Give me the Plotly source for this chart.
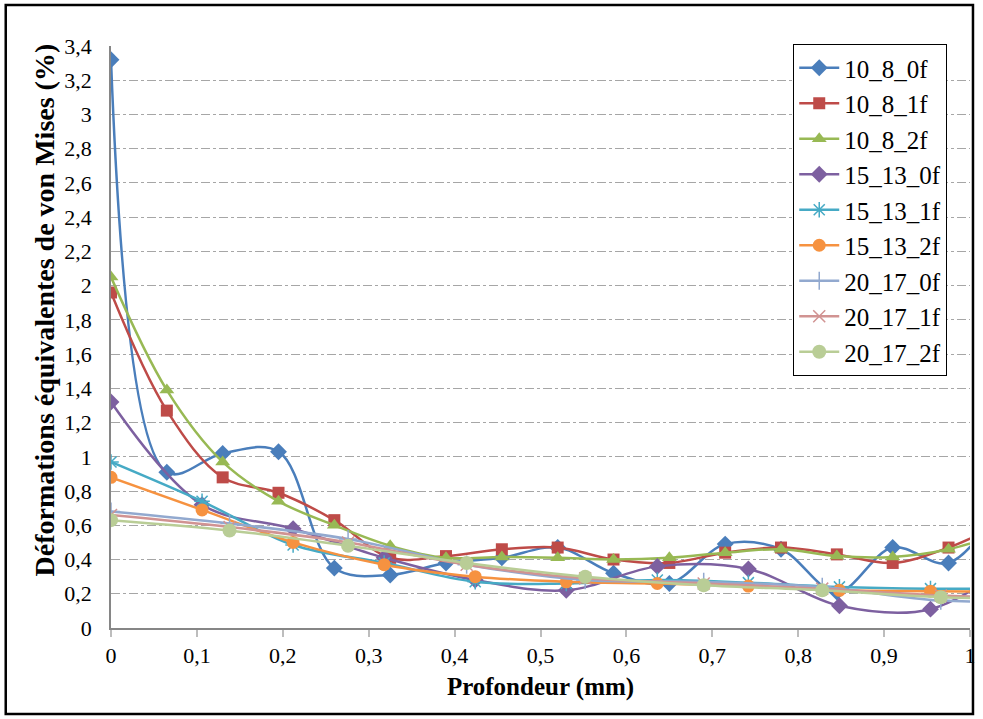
import plotly.graph_objects as go

# ---- data ----
names = ["10_8_0f", "10_8_1f", "10_8_2f", "15_13_0f", "15_13_1f", "15_13_2f",
         "20_17_0f", "20_17_1f", "20_17_2f"]

x_a = [0, 0.065, 0.13, 0.195, 0.26, 0.325, 0.39, 0.455, 0.52, 0.585, 0.65,
       0.715, 0.78, 0.845, 0.91, 0.975, 1.04]
x_b = [0, 0.106, 0.212, 0.318, 0.424, 0.53, 0.636, 0.742, 0.848, 0.954, 1.06]
x_c = [0, 0.138, 0.276, 0.414, 0.552, 0.69, 0.828, 0.966, 1.104]

y_10_8_0f = [3.32, 0.91, 1.02, 1.03, 0.35, 0.31, 0.38, 0.41, 0.47, 0.32, 0.26,
             0.49, 0.46, 0.21, 0.47, 0.38, 0.75]
y_10_8_1f = [1.96, 1.27, 0.88, 0.79, 0.63, 0.41, 0.42, 0.46, 0.47, 0.40, 0.38,
             0.44, 0.47, 0.43, 0.38, 0.47, 0.62]
y_10_8_2f = [2.05, 1.39, 0.97, 0.74, 0.60, 0.48, 0.41, 0.415, 0.41, 0.40, 0.41,
             0.44, 0.46, 0.42, 0.415, 0.46, 0.56]
y_15_13_0f = [1.32, 0.72, 0.58, 0.41, 0.28, 0.22, 0.36, 0.345, 0.13, 0.11, 0.42]
y_15_13_1f = [0.97, 0.74, 0.485, 0.38, 0.27, 0.26, 0.28, 0.265, 0.24, 0.23, 0.23]
y_15_13_2f = [0.88, 0.69, 0.50, 0.37, 0.30, 0.27, 0.26, 0.245, 0.22, 0.215, 0.21]
y_20_17_0f = [0.68, 0.61, 0.52, 0.37, 0.28, 0.27, 0.24, 0.16, 0.16]
y_20_17_1f = [0.66, 0.59, 0.50, 0.37, 0.29, 0.26, 0.23, 0.19, 0.17]
y_20_17_2f = [0.63, 0.57, 0.48, 0.38, 0.30, 0.25, 0.22, 0.18, 0.17]

y_ticks = [0, 0.2, 0.4, 0.6, 0.8, 1, 1.2, 1.4, 1.6, 1.8, 2, 2.2, 2.4, 2.6, 2.8,
           3, 3.2, 3.4]
x_ticks = [0, 0.1, 0.2, 0.3, 0.4, 0.5, 0.6, 0.7, 0.8, 0.9, 1]

series = [
    (names[0], x_a, y_10_8_0f, "#4A7EBB", "diamond", 13),
    (names[1], x_a, y_10_8_1f, "#BE4B48", "square", 12),
    (names[2], x_a, y_10_8_2f, "#98B954", "triangle-up", 13),
    (names[3], x_b, y_15_13_0f, "#7D60A0", "diamond", 13),
    (names[4], x_b, y_15_13_1f, "#46AAC5", "asterisk-open", 13),
    (names[5], x_b, y_15_13_2f, "#F69240", "circle", 13),
    (names[6], x_c, y_20_17_0f, "#92A9CF", "cross-thin-open", 13),
    (names[7], x_c, y_20_17_1f, "#D19392", "x-thin-open", 12),
    (names[8], x_c, y_20_17_2f, "#B9CD96", "circle", 14),
]

FONT = "Liberation Serif"
fig = go.Figure()
for nm, xs, ys, col, sym, sz in series:
    open_sym = sym.endswith("open")
    fig.add_trace(go.Scatter(
        x=xs, y=ys, name=nm, mode="lines+markers",
        line=dict(color=col, width=2.5, shape="spline", smoothing=1.0),
        marker=dict(symbol=sym, size=sz, color=col,
                    line=dict(color=col, width=1.5 if open_sym else 0)),
    ))

L, R, T, B = 111, 7, 46, 91
W, H = 983, 719
pw, ph = W - L - R, H - T - B

def px(xp):
    return (xp - L) / pw

def py(yp):
    return (H - B - yp) / ph

fig.update_layout(
    width=W, height=H,
    margin=dict(l=L, r=R, t=T, b=B),
    paper_bgcolor="white", plot_bgcolor="white",
    separators=", ",
    font=dict(family=FONT, color="black", size=22),
    showlegend=True,
    legend=dict(
        x=px(798), y=py(44), xanchor="left", yanchor="top",
        bgcolor="white", bordercolor="black", borderwidth=1,
        font=dict(family=FONT, size=25, color="black"),
        itemwidth=40, entrywidth=120, entrywidthmode="pixels",
    ),
    xaxis=dict(
        range=[0, 1], tickvals=x_ticks,
        showgrid=False, zeroline=False,
        showline=True, linecolor="#868686", linewidth=1.5,
        ticks="outside", ticklen=7, tickcolor="#bdbdbd", tickwidth=1.5,
        tickfont=dict(family=FONT, size=22, color="black"),
        title=dict(text="<b>Profondeur (mm)</b>",
                   font=dict(family=FONT, size=25, color="black"),
                   standoff=10),
    ),
    yaxis=dict(
        range=[0, 3.4], tickvals=y_ticks,
        showgrid=True, gridcolor="#a6a6a6", gridwidth=1, griddash="dashdot",
        zeroline=False,
        showline=True, linecolor="#868686", linewidth=1.5,
        ticks="", ticklabelstandoff=13,
        tickfont=dict(family=FONT, size=22, color="black"),
    ),
    shapes=[dict(type="rect", xref="paper", yref="paper",
                 x0=px(5), x1=px(979), y0=py(714), y1=py(5),
                 line=dict(color="black", width=2.5), fillcolor="rgba(0,0,0,0)",
                 layer="above")],
    annotations=[dict(text="<b>Déformations équivalentes de von Mises (%)</b>",
                      xref="paper", yref="paper", x=px(44), y=py(310),
                      xanchor="center", yanchor="middle",
                      textangle=-90, showarrow=False,
                      font=dict(family=FONT, size=28, color="black"))],
)

fig.write_html("out.html", config={"displayModeBar": False},
               post_script="document.body.style.margin='0';document.body.style.overflow='hidden';")
